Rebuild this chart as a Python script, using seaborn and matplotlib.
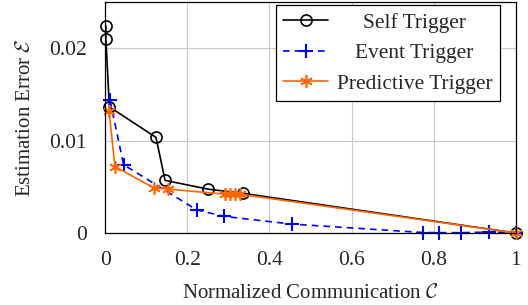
import pandas as pd
import matplotlib
import matplotlib.pyplot as plt
import seaborn as sns

matplotlib.use('Agg')

# Data
self_comm = [0.002, 0.002, 0.0105, 0.124, 0.146, 0.251, 0.335, 1.0]
self_err = [0.0224, 0.0210, 0.01366, 0.01035, 0.0057, 0.00475, 0.0043, 0.0]

event_comm = [0.012, 0.045, 0.223, 0.29, 0.454, 0.775, 0.813, 0.866, 0.934, 1.0]
event_err = [0.0144, 0.0074, 0.0025, 0.0018, 0.00097, 0.00005, 0.00004, 0.00003, 0.0001, 0.0]

pred_comm = [0.0097, 0.024, 0.118, 0.154, 0.292, 0.304, 0.316, 0.328, 1.0]
pred_err = [0.0132, 0.0072, 0.0049, 0.00475, 0.0042, 0.0042, 0.0042, 0.0042, 0.0]

sns.set_style('whitegrid')
plt.rcParams['font.family'] = ['Liberation Serif', 'DejaVu Serif']
plt.rcParams['mathtext.fontset'] = 'cm'
plt.rcParams['axes.unicode_minus'] = False

fig = plt.figure(figsize=(5.28, 3.05), dpi=100)
ax = fig.add_axes([0.199, 0.236, 0.778, 0.757])

self_df = pd.DataFrame({'comm': self_comm, 'err': self_err})
event_df = pd.DataFrame({'comm': event_comm, 'err': event_err})
pred_df = pd.DataFrame({'comm': pred_comm, 'err': pred_err})

sns.lineplot(data=self_df, x='comm', y='err', sort=False, estimator=None, ax=ax,
             color='black', marker='o', markersize=8, markerfacecolor='none',
             markeredgecolor='black', markeredgewidth=1.2, linewidth=1.2, clip_on=False)
sns.lineplot(data=event_df, x='comm', y='err', sort=False, estimator=None, ax=ax,
             color='blue', marker='+', markersize=10, markeredgecolor='blue',
             markeredgewidth=1.5, linewidth=1.2, linestyle=(0, (4, 3)), clip_on=False)
sns.lineplot(data=pred_df, x='comm', y='err', sort=False, estimator=None, ax=ax,
             color='#ff6600', marker=(6, 2, 0), markersize=9, markeredgecolor='#ff6600',
             markeredgewidth=1.2, linewidth=1.2, clip_on=False)

ax.set_xlim(0, 1)
ax.set_ylim(0, 0.025)
ax.set_xticks([0, 0.2, 0.4, 0.6, 0.8, 1])
ax.set_xticklabels(['0', '0.2', '0.4', '0.6', '0.8', '1'])
ax.set_yticks([0, 0.01, 0.02])
ax.set_yticklabels(['0', '0.01', '0.02'])
ax.tick_params(labelsize=15.5, length=0)
ax.tick_params(axis='x', pad=13)
ax.tick_params(axis='y', pad=13)
ax.grid(True, color='#c8c8c8', linewidth=0.8)
for s in ax.spines.values():
    s.set_edgecolor('black')
    s.set_linewidth(0.9)

ax.set_xlabel(r'Normalized Communication $\mathcal{C}$', fontsize=15, labelpad=10)
ax.set_ylabel(r'Estimation Error $\mathcal{E}$', fontsize=15, labelpad=10)

lines = ax.get_lines()
leg = ax.legend(lines[:3], ['Self Trigger', 'Event Trigger', 'Predictive Trigger'],
                loc='upper right', fontsize=15.4, frameon=True, fancybox=False,
                edgecolor='black', framealpha=1, borderpad=0.35, labelspacing=0.5,
                handlelength=2.1, handletextpad=0.4, borderaxespad=0,
                bbox_to_anchor=(0.961, 0.987))
leg.get_frame().set_linewidth(0.9)

# centre legend labels in their column, as in the reference
fig.canvas.draw()
texts = leg.get_texts()
widths = [t.get_window_extent().width for t in texts]
maxw = max(widths)
for t, w in zip(texts, widths):
    t.set_x((maxw - w) / 2)

plt.savefig('out.png', dpi=100)
